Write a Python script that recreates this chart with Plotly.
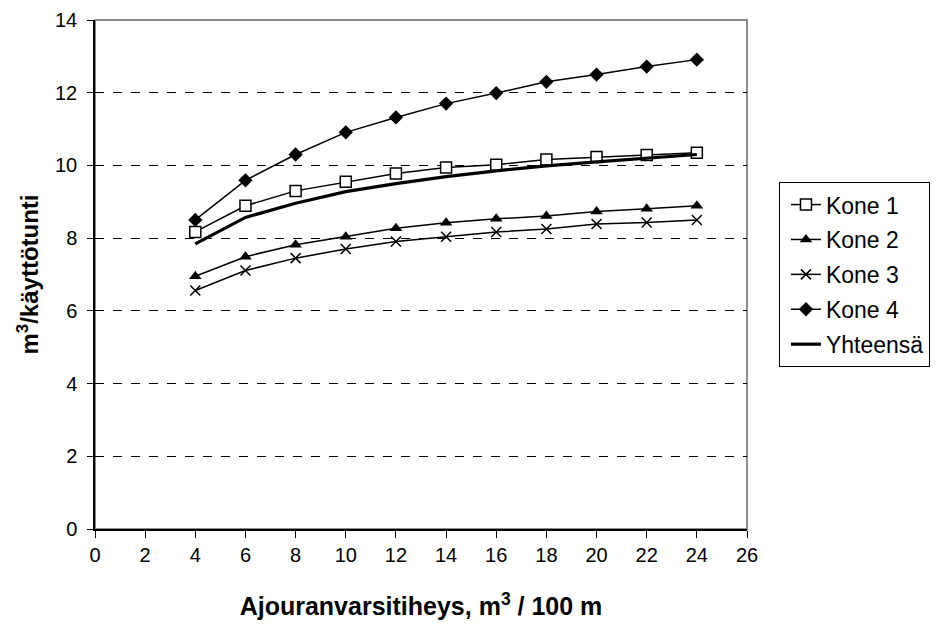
import plotly.graph_objects as go

x_vals = [4, 6, 8, 10, 12, 14, 16, 18, 20, 22, 24]
kone1 = [8.17, 8.89, 9.30, 9.55, 9.78, 9.94, 10.02, 10.16, 10.23, 10.29, 10.35]
kone2 = [6.95, 7.49, 7.82, 8.04, 8.27, 8.42, 8.53, 8.61, 8.73, 8.81, 8.89]
kone3 = [6.56, 7.11, 7.45, 7.70, 7.91, 8.04, 8.17, 8.25, 8.39, 8.43, 8.50]
kone4 = [8.50, 9.59, 10.30, 10.91, 11.32, 11.70, 11.99, 12.30, 12.50, 12.72, 12.91]
yhteensa = [7.84, 8.57, 8.96, 9.28, 9.50, 9.69, 9.85, 9.99, 10.10, 10.21, 10.30]

x_ticks = list(range(0, 27, 2))
y_ticks = list(range(0, 15, 2))

FONT = "Liberation Sans, Arial, sans-serif"

fig = go.Figure()
fig.add_trace(go.Scatter(x=x_vals, y=kone1, name="Kone 1", mode="lines+markers", legendgroup="a",
                         line=dict(color="black", width=1.5),
                         marker=dict(symbol="square", size=11, color="white", line=dict(color="black", width=1.5))))
fig.add_trace(go.Scatter(x=x_vals, y=kone2, name="Kone 2", mode="lines+markers", legendgroup="b",
                         line=dict(color="black", width=1.5),
                         marker=dict(symbol="triangle-up", size=11, color="black")))
fig.add_trace(go.Scatter(x=x_vals, y=kone3, name="Kone 3", mode="lines+markers", legendgroup="c",
                         line=dict(color="black", width=1.5),
                         marker=dict(symbol="x-thin", size=10, color="black", line=dict(color="black", width=1.5))))
fig.add_trace(go.Scatter(x=x_vals, y=kone4, name="Kone 4", mode="lines+markers", legendgroup="d",
                         line=dict(color="black", width=1.5),
                         marker=dict(symbol="diamond", size=11, color="black")))
fig.add_trace(go.Scatter(x=x_vals, y=yhteensa, name="Yhteensä", mode="lines", legendgroup="e",
                         line=dict(color="black", width=3.2)))

fig.add_shape(type="rect", xref="paper", yref="paper", x0=0, y0=0, x1=1, y1=1,
              line=dict(color="#8c8c8c", width=2), layer="below")

fig.update_layout(
    width=937, height=624,
    margin=dict(l=95, r=190, t=20, b=95, autoexpand=False),
    paper_bgcolor="white", plot_bgcolor="white",
    font=dict(family=FONT, size=20, color="black"),
    showlegend=True,
    legend=dict(x=1.049, y=0.6815, xanchor="left", yanchor="top",
                bordercolor="black", borderwidth=1, bgcolor="white",
                font=dict(size=23), tracegroupgap=2, indentation=6),
    xaxis=dict(range=[0, 26], tickvals=x_ticks, ticks="outside", ticklen=7, tickcolor="black",
               showline=True, linecolor="black", linewidth=1.5, showgrid=False, zeroline=False,
               automargin=False,
               title=dict(text="<b>Ajouranvarsitiheys, m<sup>3</sup> / 100 m</b>", standoff=33,
                          font=dict(size=25))),
    yaxis=dict(range=[0, 14], tickvals=y_ticks, ticks="outside", ticklen=6, tickcolor="black",
               ticklabelstandoff=6, automargin=False,
               showline=True, linecolor="black", linewidth=1.5, zeroline=False,
               showgrid=True, gridcolor="black", griddash="dash", gridwidth=1,
               title=dict(text="<b>m<sup>3</sup>/käyttötunti</b>", standoff=10, font=dict(size=24))),
)

fig.write_html("out.html")
